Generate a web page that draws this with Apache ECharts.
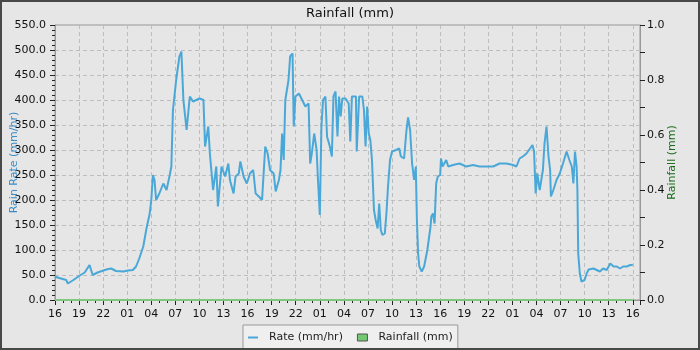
<!DOCTYPE html>
<html>
<head>
<meta charset="utf-8">
<script src="https://cdn.jsdelivr.net/npm/echarts@6/dist/echarts.min.js"></script>
<style>
  body { margin: 0; background: #e6e6e6; }
  #chart { width: 700px; height: 350px; }
  #frame { position: absolute; left: 0; top: 0; width: 700px; height: 350px;
           box-sizing: border-box; border: 2px solid #484848; pointer-events: none; }
</style>
</head>
<body>
<div id="chart"></div>
<div id="frame"></div>
<script>
// hours since 16:00 on the first day
var hours = [0, 0.3, 1.4, 1.6, 2.2, 3.0, 3.7, 4.3, 4.7, 5.3, 6.4, 7.0, 7.6, 8.5, 9.1, 9.7,
  10.1, 10.5, 11.0, 11.4, 11.8, 12.0, 12.2, 12.4, 12.6, 13.0, 13.5, 13.9, 14.3, 14.5, 14.7,
  15.1, 15.5, 15.75, 16.0, 16.4, 16.8, 17.2, 17.6, 18.0, 18.5, 18.7, 19.1, 19.3, 19.7, 20.1,
  20.3, 20.75, 21.2, 21.6, 21.8, 22.25, 22.5, 22.9, 23.1, 23.5, 23.9, 24.3, 24.7, 25.0,
  25.4, 25.8, 26.0, 26.2, 26.5, 26.8, 27.25, 27.5, 27.9, 28.1, 28.3, 28.5, 28.7, 29.1,
  29.3, 29.6, 29.75, 29.96, 30.4, 30.8, 31.2, 31.6, 31.8, 32.0, 32.3, 32.6, 32.75, 33.0,
  33.2, 33.4, 33.7, 33.9, 34.25, 34.5, 34.7, 34.96, 35.2, 35.4, 35.6, 35.8, 36.2, 36.6,
  36.8, 37.0, 37.5, 37.6, 37.9, 38.3, 38.5, 38.7, 38.9, 39.1, 39.3, 39.5, 39.75, 39.96,
  40.2, 40.4, 40.6, 40.8, 41.1, 41.3, 41.5, 41.75, 42.0, 42.5, 42.9, 43.1, 43.5, 43.8,
  44.0, 44.25, 44.5, 44.75, 44.96, 45.1, 45.25, 45.4, 45.7, 46.0, 46.4, 46.8, 46.9, 47.1,
  47.3, 47.5, 47.7, 48.0, 48.1, 48.3, 48.75, 49.0, 49.6, 50.4, 51.25, 52.1, 52.9, 53.75,
  54.6, 55.4, 56.25, 57.1, 57.5, 57.9, 58.3, 58.75, 59.2, 59.5, 59.7, 59.9, 60.1, 60.4,
  60.6, 60.8, 61.0, 61.25, 61.5, 61.7, 61.8, 62.1, 62.5, 62.9, 63.3, 63.75, 64.1, 64.4,
  64.6, 64.8, 65.0, 65.1, 65.2, 65.4, 65.6, 66.0, 66.25, 66.5, 67.1, 67.5, 67.9, 68.3,
  68.75, 69.2, 69.6, 70.0, 70.4, 70.8, 71.25, 71.7, 72.0];
var rate = [47, 45, 40, 33, 39, 48, 55, 70, 50, 55, 61, 63, 58, 57, 59, 60,
  67, 83, 107, 143, 173, 200, 250, 240, 200, 213, 233, 220, 250, 267, 380,
  440, 487, 497, 400, 340, 407, 397, 400, 403, 400, 307, 347, 293, 220, 267,
  187, 267, 247, 273, 240, 213, 247, 253, 277, 247, 233, 253, 260, 213,
  207, 200, 200, 307, 293, 260, 253, 217, 240, 260, 333, 280, 400, 440,
  487, 493, 347, 407, 413, 400, 387, 393, 273, 293, 333, 300, 247, 170,
  347, 400, 407, 327, 307, 287, 407, 417, 327, 407, 367, 403, 403, 393,
  317, 407, 407, 297, 407, 407, 380, 307, 387, 333, 320, 280, 180, 160,
  143, 193, 140, 130, 133, 173, 227, 280, 297, 300, 303, 287, 283, 340,
  365, 340, 273, 240, 267, 160, 93, 67, 57, 67, 100, 147, 167, 173,
  153, 233, 247, 250, 283, 267, 280, 267, 270, 273, 267, 270, 267, 267,
  267, 273, 273, 270, 267, 283, 287, 293, 303, 310, 297, 213, 253, 220,
  240, 260, 313, 347, 287, 260, 207, 220, 240, 253, 273, 297, 280, 267,
  233, 297, 267, 220, 93, 53, 37, 40, 53, 61, 63, 60, 57, 63,
  60, 73, 67, 67, 63, 67, 67, 70, 70];
var rainHours = [0, 72.0];
var rainfall = [0, 0];
var startHour = 16;

var ratePoints = hours.map(function (h, i) { return [h, rate[i]]; });
var rainPoints = rainHours.map(function (h, i) { return [h, rainfall[i]]; });

var font = 'DejaVu Sans';
var myChart = echarts.init(document.getElementById('chart'));
myChart.setOption({
  backgroundColor: '#e6e6e6',
  animation: false,
  textStyle: { fontFamily: font },
  title: {
    text: 'Rainfall (mm)',
    left: 'center',
    top: 2,
    textStyle: { fontFamily: font, fontSize: 13, fontWeight: 'normal', color: '#111' }
  },
  legend: {
    left: 243,
    top: 325,
    itemWidth: 10,
    itemHeight: 7,
    itemGap: 14,
    padding: [7, 5, 6, 5],
    backgroundColor: '#efefef',
    borderColor: '#999',
    borderWidth: 1,
    borderRadius: 0,
    textStyle: { fontFamily: font, fontSize: 11, color: '#222', padding: [0, 0, 0, 6] },
    data: [
      { name: 'Rate (mm/hr)', icon: 'path://M0,0 L10,0 L10,2 L0,2 Z',
        itemStyle: { color: '#4aa8d8' } },
      { name: 'Rainfall (mm)', icon: 'rect',
        itemStyle: { color: '#74c874', borderColor: '#555', borderWidth: 1 } }
    ]
  },
  grid: { left: 55, right: 60, top: 25, bottom: 50, show: true, outerBoundsMode: 'none',
          containLabel: false,
          borderColor: '#999', borderWidth: 1, backgroundColor: 'transparent' },
  xAxis: {
    type: 'value',
    min: 0,
    max: 72.9,
    interval: 3,
    axisLine: { lineStyle: { color: '#999' } },
    axisTick: { length: 5, lineStyle: { color: '#222' } },
    minorTick: { show: true, splitNumber: 3, length: 3, lineStyle: { color: '#222' } },
    axisLabel: {
      showMaxLabel: false,
      fontSize: 11, color: '#111', margin: 9,
      formatter: function (v) {
        var h = Math.round(startHour + v) % 24;
        return (h < 10 ? '0' : '') + h;
      }
    },
    splitLine: { show: true, lineStyle: { color: '#bdbdbd', type: [4, 3] } }
  },
  yAxis: [
    {
      type: 'value',
      min: 0,
      max: 550,
      interval: 50,
      name: 'Rain Rate (mm/hr)',
      nameLocation: 'middle',
      nameRotate: 90,
      nameGap: 35,
      nameMoveOverlap: false,
      nameTextStyle: { color: '#3a8cc6', fontSize: 11 },
      axisLine: { show: true, lineStyle: { color: '#999' } },
      axisTick: { show: true, length: 5, lineStyle: { color: '#222' } },
      minorTick: { show: true, splitNumber: 5, length: 3, lineStyle: { color: '#222' } },
      axisLabel: { fontSize: 11, color: '#111', margin: 9,
                   formatter: function (v) { return v.toFixed(1); } },
      splitLine: { show: true, lineStyle: { color: '#bdbdbd', type: [4, 3] } }
    },
    {
      type: 'value',
      min: 0,
      max: 1,
      interval: 0.2,
      position: 'right',
      name: 'Rainfall (mm)',
      nameLocation: 'middle',
      nameRotate: 90,
      nameGap: 27,
      nameMoveOverlap: false,
      nameTextStyle: { color: '#1b6b1b', fontSize: 11 },
      axisLine: { show: true, lineStyle: { color: '#999' } },
      axisTick: { show: true, length: 5, lineStyle: { color: '#222' } },
      minorTick: { show: true, splitNumber: 2, length: 5, lineStyle: { color: '#222' } },
      axisLabel: { fontSize: 11, color: '#111', margin: 7,
                   formatter: function (v) { return v.toFixed(1); } },
      splitLine: { show: false }
    }
  ],
  series: [
    {
      name: 'Rate (mm/hr)',
      type: 'line',
      symbol: 'none',
      data: ratePoints,
      itemStyle: { color: '#4aa8d8' },
      lineStyle: { color: '#4aa8d8', width: 2 }
    },
    {
      name: 'Rainfall (mm)',
      type: 'line',
      yAxisIndex: 1,
      symbol: 'none',
      clip: false,
      z: 10,
      data: rainPoints,
      itemStyle: { color: '#74c874' },
      lineStyle: { color: '#80c880', width: 2 }
    }
  ]
});
</script>
</body>
</html>
